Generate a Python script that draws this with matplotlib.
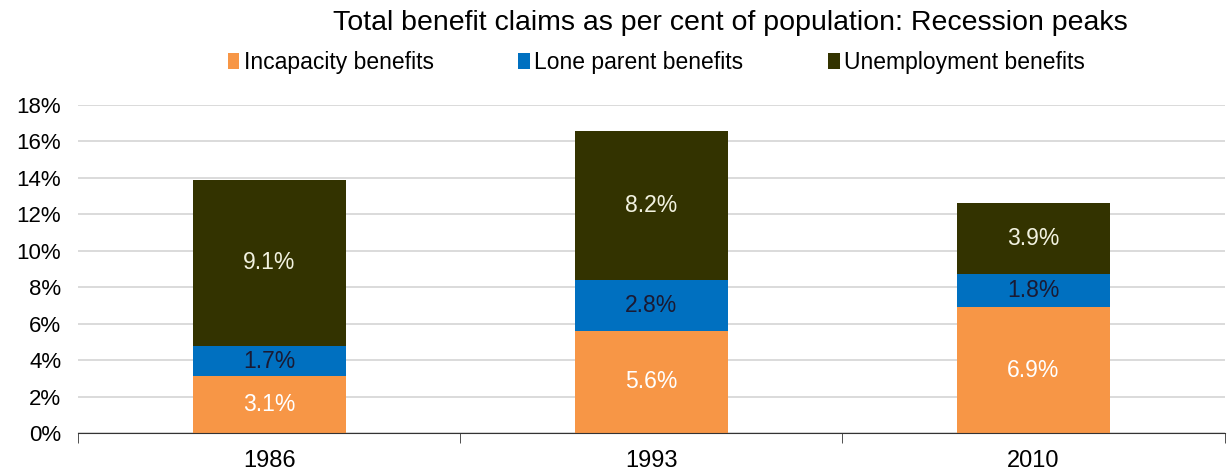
import matplotlib.pyplot as plt
import numpy as np
from matplotlib.patches import Patch
from matplotlib.ticker import FixedLocator, PercentFormatter

plt.rcParams['font.family'] = ['Liberation Sans', 'DejaVu Sans']

# Data (per cent of population)
years = ['1986', '1993', '2010']
incapacity = [3.1, 5.6, 6.9]
lone_parent = [1.7, 2.8, 1.8]
unemployment = [9.1, 8.2, 3.9]

series = ['Incapacity benefits', 'Lone parent benefits', 'Unemployment benefits']
colors = ['#F79646', '#0070C0', '#333300']
label_colors = ['white', '#1a1a33', '#f2f2e0']

fig = plt.figure(figsize=(12.27, 4.73), dpi=100)
ax = fig.add_axes([0.0636, 0.0846, 0.9344, 0.6934])

x = np.arange(len(years))
bottom = np.zeros(len(years))
for vals, col, lc in zip([incapacity, lone_parent, unemployment], colors, label_colors):
    bars = ax.bar(x, vals, width=0.4, bottom=bottom, color=col, zorder=2)
    for b, v, y0 in zip(bars, vals, bottom):
        ax.text(b.get_x() + b.get_width() / 2, y0 + v / 2, f'{v:.1f}%',
                ha='center', va='center', color=lc, fontsize=16.5)
    bottom += np.array(vals)

ax.set_xlim(-0.5, len(years) - 0.5)
ax.set_ylim(0, 18)
ax.set_yticks(np.arange(0, 19, 2))
ax.yaxis.set_major_formatter(PercentFormatter(decimals=0))
ax.grid(axis='y', color='#d4d4d4', linewidth=1.2, zorder=0)
ax.set_axisbelow(True)

ax.set_xticks(x)
ax.set_xticklabels(years, fontsize=17)
ax.xaxis.set_minor_locator(FixedLocator(np.arange(-0.5, len(years), 1)))
ax.tick_params(axis='x', which='major', length=0, pad=12)
ax.tick_params(axis='x', which='minor', length=7, color='#333333')
ax.tick_params(axis='y', length=0, labelsize=16, pad=12)

for s in ['top', 'right', 'left']:
    ax.spines[s].set_visible(False)
ax.spines['bottom'].set_color('#333333')

fig.text(0.595, 0.952, 'Total benefit claims as per cent of population: Recession peaks',
         ha='center', va='center', fontsize=20.5)

handles = [Patch(facecolor=c, label=s) for c, s in zip(colors, series)]
fig.legend(handles=handles, loc='center', bbox_to_anchor=(0.535, 0.868), ncol=3,
           frameon=False, fontsize=16.5, handlelength=0.5, handleheight=0.7,
           handletextpad=0.2, columnspacing=3.7)

fig.savefig('out.png', dpi=100)
